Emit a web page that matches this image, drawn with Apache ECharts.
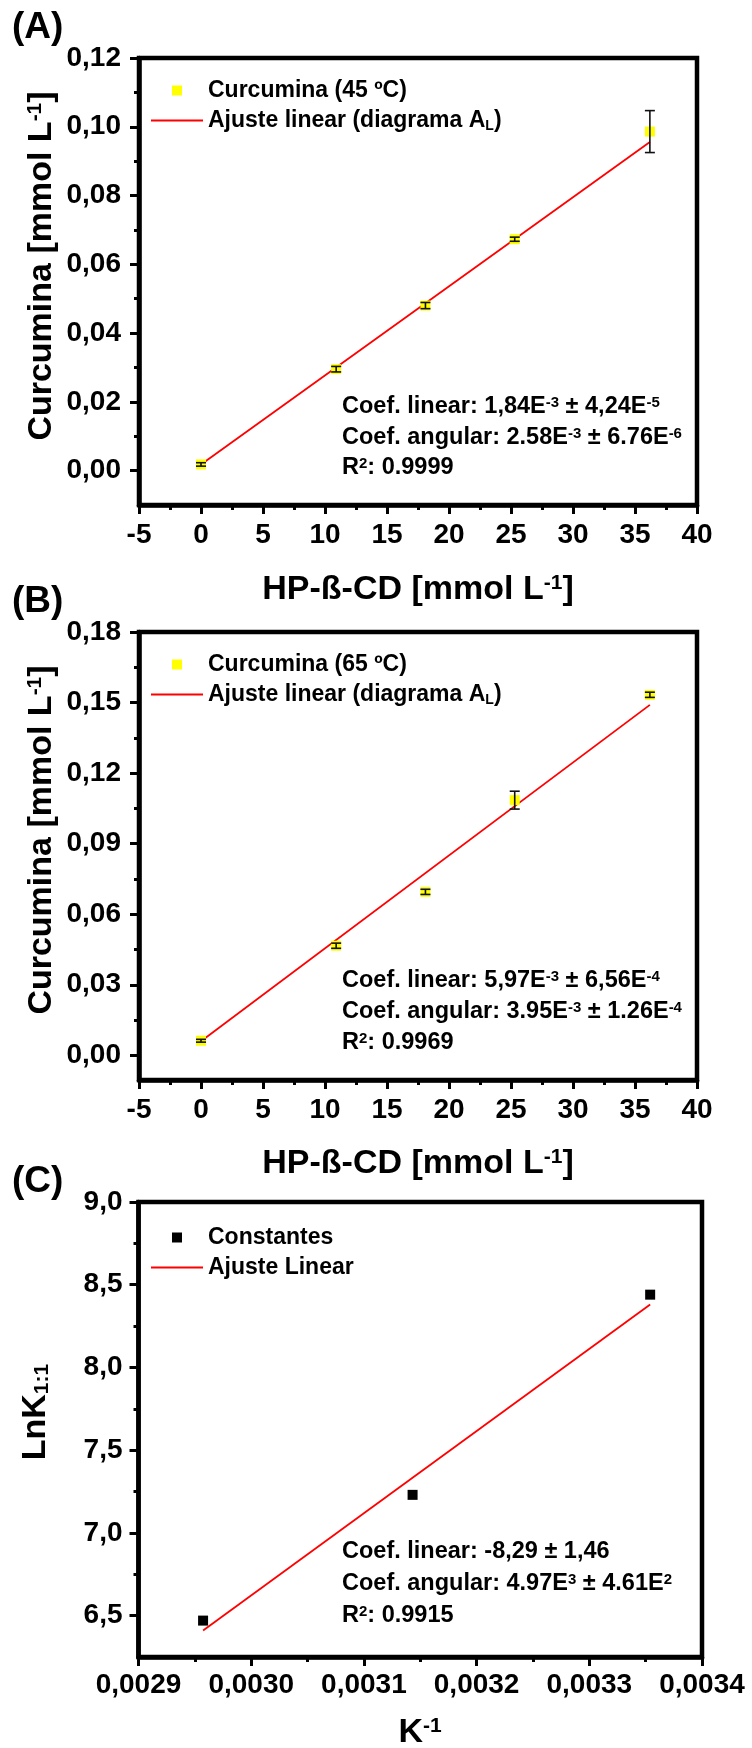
<!DOCTYPE html>
<html><head><meta charset="utf-8">
<script src="https://cdn.jsdelivr.net/npm/echarts@6/dist/echarts.min.js"></script>
<style>html,body{margin:0;padding:0;background:#fff}#c{width:752px;height:1748px}</style>
</head><body><div id="c"></div>
<script>
// ---------- Panel A data (45 ºC) ----------
const xA = [0, 10.9, 18.1, 25.3, 36.2];
const yA = [0.0018, 0.0295, 0.0480, 0.0673, 0.0986];
const errA = [0.0005, 0.0008, 0.0009, 0.0006, 0.0061];
const fitAx = [0, 36.2];
const fitAy = [0.0018, 0.0956];
// ---------- Panel B data (65 ºC) ----------
const xB = [0, 10.9, 18.1, 25.3, 36.2];
const yB = [0.0062, 0.0466, 0.0695, 0.1085, 0.1533];
const errB = [0.0006, 0.0011, 0.0011, 0.0038, 0.0011];
const fitBx = [0, 36.2];
const fitBy = [0.0060, 0.1490];
// ---------- Panel C data ----------
const xC = [0.0029573, 0.0031432, 0.0033540];
const yC = [6.47, 7.23, 8.44];
const fitCx = [0.0029573, 0.0033540];
const fitCy = [6.41, 8.38];
// ---------- ticks ----------
const xTicksAB = [-5, 0, 5, 10, 15, 20, 25, 30, 35, 40];
const xMinorAB = [-2.5, 2.5, 7.5, 12.5, 17.5, 22.5, 27.5, 32.5, 37.5];
const yTicksA = [0, 0.02, 0.04, 0.06, 0.08, 0.10, 0.12];
const yMinorA = [0.01, 0.03, 0.05, 0.07, 0.09, 0.11];
const yTicksB = [0, 0.03, 0.06, 0.09, 0.12, 0.15, 0.18];
const yMinorB = [0.015, 0.045, 0.075, 0.105, 0.135, 0.165];
const xTicksC = [0.0029, 0.0030, 0.0031, 0.0032, 0.0033, 0.0034];
const xMinorC = [0.00295, 0.00305, 0.00315, 0.00325, 0.00335];
const yTicksC = [6.5, 7.0, 7.5, 8.0, 8.5, 9.0];
const yMinorC = [6.75, 7.25, 7.75, 8.25, 8.75];
// ---------- texts ----------
const nameA = 'Curcumina (45 ºC)';
const nameB = 'Curcumina (65 ºC)';
const nameFitAB = 'Ajuste linear (diagrama AL)';
const nameC = 'Constantes';
const nameFitC = 'Ajuste Linear';
const notesA = ['Coef. linear: 1,84E{sup|-3} ± 4,24E{sup|-5}', 'Coef. angular: 2.58E{sup|-3} ± 6.76E{sup|-6}', 'R{sup|2}: 0.9999'];
const notesB = ['Coef. linear: 5,97E{sup|-3} ± 6,56E{sup|-4}', 'Coef. angular: 3.95E{sup|-3} ± 1.26E{sup|-4}', 'R{sup|2}: 0.9969'];
const notesC = ['Coef. linear: -8,29 ± 1,46', 'Coef. angular: 4.97E{sup|3} ± 4.61E{sup|2}', 'R{sup|2}: 0.9915'];

const FONT = "'Liberation Sans', Arial, sans-serif";
const chart = echarts.init(document.getElementById('c'), null, {renderer: 'canvas'});

const GRIDS = [
  {left: 139, top: 58, width: 558, height: 447},
  {left: 139, top: 632, width: 558, height: 448},
  {left: 138.5, top: 1202, width: 563.5, height: 455}
];

function mainAxis(gi, min, max, majors, fmt, margin, pos) {
  return {
    type: 'value', gridIndex: gi, min: min, max: max, position: pos,
    axisLine: {show: true, onZero: false, lineStyle: {color: '#000', width: 4.5}},
    axisTick: {show: true, customValues: majors, length: 9, lineStyle: {color: '#000', width: 3}},
    axisLabel: {show: true, customValues: majors, formatter: fmt, fontSize: 28, fontWeight: 'bold',
      fontFamily: FONT, color: '#000', margin: margin},
    splitLine: {show: false}
  };
}
function minorAxis(gi, min, max, minors, pos) {
  return {
    type: 'value', gridIndex: gi, min: min, max: max, position: pos,
    axisLine: {show: false, onZero: false},
    axisTick: {show: true, customValues: minors, length: 5, lineStyle: {color: '#000', width: 3}},
    axisLabel: {show: false}, splitLine: {show: false}
  };
}
const comma = d => v => v.toFixed(d).replace('.', ',');

function errBar(params, api) {
  const x = api.value(0), lo = api.value(1), hi = api.value(2);
  const a = api.coord([x, lo]), b = api.coord([x, hi]);
  const hw = 5;
  const st = {stroke: '#111', lineWidth: 1.6};
  return {type: 'group', children: [
    {type: 'line', shape: {x1: a[0], y1: a[1], x2: b[0], y2: b[1]}, style: st},
    {type: 'line', shape: {x1: a[0] - hw, y1: a[1], x2: a[0] + hw, y2: a[1]}, style: st},
    {type: 'line', shape: {x1: b[0] - hw, y1: b[1], x2: b[0] + hw, y2: b[1]}, style: st}
  ]};
}

function panelSeries(axisIdx, xs, ys, errs, fx, fy, pname, fname, pcolor) {
  const out = [
    {type: 'line', name: fname, xAxisIndex: axisIdx, yAxisIndex: axisIdx,
      data: fx.map((x, i) => [x, fy[i]]), symbol: 'none', showSymbol: false,
      lineStyle: {color: '#FF0000', width: 1.8}, itemStyle: {color: '#FF0000'}, z: 2},
    {type: 'scatter', name: pname, xAxisIndex: axisIdx, yAxisIndex: axisIdx,
      data: xs.map((x, i) => [x, ys[i]]), symbol: 'rect', symbolSize: 10,
      itemStyle: {color: pcolor, opacity: 1}, z: 3}
  ];
  if (errs) {
    out.push({type: 'custom', name: pname + ' err', xAxisIndex: axisIdx, yAxisIndex: axisIdx,
      renderItem: errBar, encode: {x: 0, y: [1, 2]}, z: 4,
      data: xs.map((x, i) => [x, ys[i] - errs[i], ys[i] + errs[i]])});
  }
  return out;
}

const supSub = (fs) => ({
  sup: {fontSize: fs, fontWeight: 'bold', fontFamily: FONT, fill: '#000', color: '#000', verticalAlign: 'top', lineHeight: fs * 1.1},
  sub: {fontSize: fs, fontWeight: 'bold', fontFamily: FONT, fill: '#000', color: '#000', verticalAlign: 'bottom', lineHeight: fs * 0.6}
});

function legendFor(top, items) {
  return {
    orient: 'vertical', left: 151, top: top, itemWidth: 52, itemHeight: 10, itemGap: 5, padding: 0,
    selectedMode: false, symbolKeepAspect: true,
    data: items,
    textStyle: {fontSize: 23, fontWeight: 'bold', fontFamily: FONT, color: '#000', lineHeight: 25,
      rich: {sub: {fontSize: 14, fontWeight: 'bold', fontFamily: FONT, color: '#000', verticalAlign: 'bottom', lineHeight: 8}}},
    formatter: n => n === nameFitAB ? 'Ajuste linear (diagrama A{sub|L})' : n
  };
}
const SQ = 'path://M0,0L10,0L10,10L0,10Z';
const LN = 'path://M0,0L52,0L52,1.8L0,1.8Z';

function txt(x, y, text, fs, extra) {
  return Object.assign({type: 'text', x: x, y: y, silent: true,
    style: {text: text, fontSize: fs, fontWeight: 'bold', fontFamily: FONT, fill: '#000',
      align: 'left', verticalAlign: 'middle', rich: supSub(Math.round(fs * 0.62))}}, extra || {});
}
function notes(grid, lines, offs) {
  return lines.map((l, i) => txt(342, grid.top + offs[i], l, 23.5));
}
function centered(x, y, text, fs, rot) {
  const t = txt(x, y, text, fs, rot ? {rotation: rot} : {});
  t.style.align = 'center';
  return t;
}

const graphics = [].concat(
  [txt(12, 28, '(A)', 37), txt(12, 602, '(B)', 37), txt(12, 1182, '(C)', 37)],
  notes(GRIDS[0], notesA, [349, 380, 410]),
  notes(GRIDS[1], notesB, [349, 380, 411]),
  notes(GRIDS[2], notesC, [350, 382, 414]),
  [
    centered(418, 590, 'HP-ß-CD [mmol L{sup|-1}]', 34),
    centered(418, 1164, 'HP-ß-CD [mmol L{sup|-1}]', 34),
    centered(420, 1733, 'K{sup|-1}', 34),
    centered(42, 266, 'Curcumina [mmol L{sup|-1}]', 34, Math.PI / 2),
    centered(42, 840, 'Curcumina [mmol L{sup|-1}]', 34, Math.PI / 2),
    centered(36, 1412, 'LnK{sub|1:1}', 34, Math.PI / 2)
  ]
);

const option = {
  animation: false,
  backgroundColor: '#fff',
  grid: GRIDS.map(g => Object.assign({show: true, borderColor: '#000', borderWidth: 4.5, backgroundColor: 'transparent'}, g)),
  xAxis: [
    mainAxis(0, -5, 40, xTicksAB, v => String(v), 16, 'bottom'),
    minorAxis(0, -5, 40, xMinorAB, 'bottom'),
    mainAxis(1, -5, 40, xTicksAB, v => String(v), 16, 'bottom'),
    minorAxis(1, -5, 40, xMinorAB, 'bottom'),
    mainAxis(2, 0.0029, 0.0034, xTicksC, comma(4), 14, 'bottom'),
    minorAxis(2, 0.0029, 0.0034, xMinorC, 'bottom')
  ],
  yAxis: [
    mainAxis(0, -0.01, 0.12, yTicksA, comma(2), 18, 'left'),
    minorAxis(0, -0.01, 0.12, yMinorA, 'left'),
    mainAxis(1, -0.0105, 0.18, yTicksB, comma(2), 18, 'left'),
    minorAxis(1, -0.0105, 0.18, yMinorB, 'left'),
    mainAxis(2, 6.25, 9.0, yTicksC, comma(1), 16, 'left'),
    minorAxis(2, 6.25, 9.0, yMinorC, 'left')
  ],
  legend: [
    legendFor(78, [{name: nameA, icon: SQ}, {name: nameFitAB, icon: LN}]),
    legendFor(652, [{name: nameB, icon: SQ}, {name: nameFitAB, icon: LN}]),
    legendFor(1225, [{name: nameC, icon: SQ}, {name: nameFitC, icon: LN}])
  ],
  series: [].concat(
    panelSeries(0, xA, yA, errA, fitAx, fitAy, nameA, nameFitAB, '#FFFF00'),
    panelSeries(2, xB, yB, errB, fitBx, fitBy, nameB, nameFitAB, '#FFFF00'),
    panelSeries(4, xC, yC, null, fitCx, fitCy, nameC, nameFitC, '#000000')
  ),
  graphic: graphics
};
chart.setOption(option);
</script>
</body></html>
